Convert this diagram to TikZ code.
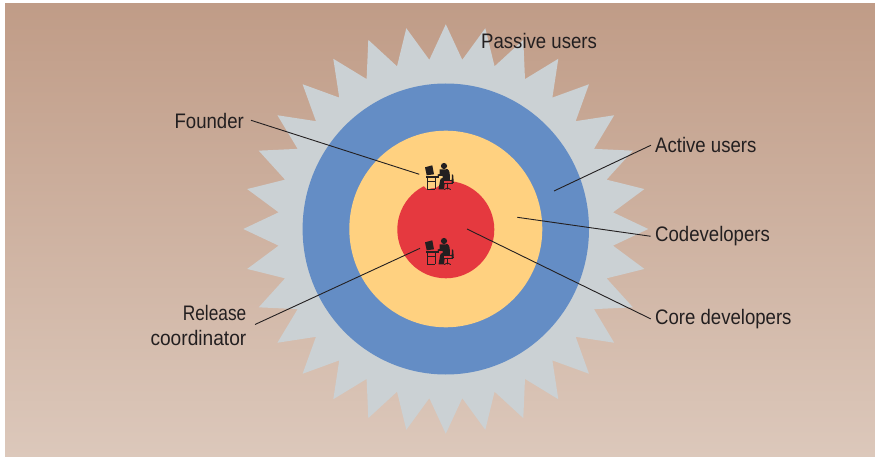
\documentclass[tikz,border=0pt]{standalone}
\usepackage{fontspec}
\setmainfont{Liberation Sans}[FakeStretch=0.885]
\definecolor{bgtop}{HTML}{C09C87}
\definecolor{bgbot}{HTML}{DCC8BB}
\definecolor{stargray}{HTML}{CBD1D4}
\definecolor{ringblue}{HTML}{648DC5}
\definecolor{ringyellow}{HTML}{FFD180}
\definecolor{ringred}{HTML}{E5393F}
\definecolor{ink}{HTML}{231F20}
\tikzset{
  lbl/.style={inner sep=0pt,text=ink,font=\fontsize{21}{25}\selectfont},
  leader/.style={draw=ink,line width=0.9pt},
  pics/worker/.style={code={
    % monitor
    \fill[ink] (0,2.3) -- (7.3,0.3) -- (9,9.3) -- (1.7,10.3) -- cycle;
    % desk
    \fill[ink] (0.7,11) rectangle (14,12.6);
    \draw[ink,line width=0.8pt] (2.3,12) -- (2.3,24.3) (10,12) -- (10,24.3) (2.3,24) -- (10,24) (2.3,16.7) -- (10,16.7);
    % person
    \fill[ink] (19,1) circle[radius=3.1];
    \fill[ink] (14.5,4.5) -- (22.5,4.2) .. controls (24.5,5) and (25,8) .. (25,15.5) -- (20,16) -- (19,24.3) -- (13.5,24.3) -- (15,16) .. controls (15,14) and (16,13) .. (17.5,13) -- (17.5,10.8) -- (13,11) -- (12.5,9.6) -- (14.5,9) -- cycle;
    % chair
    \fill[ringred,draw=ink,line width=0.5pt] (18.5,15.4) -- (27.5,15.4) -- (27.5,18) -- (18.5,18) -- cycle;
    \fill[ink] (27,9.3) -- (28.2,10) -- (28.8,18) -- (26.5,18) -- cycle;
    \draw[ink,line width=0.8pt] (22.5,17.8) -- (22.5,24.3) (19.3,24.6) -- (22.5,22.8) -- (25.7,24.6);
  }}
}
\begin{document}
\begin{tikzpicture}[x=1pt,y=-1pt]
\useasboundingbox (0,0) rectangle (875,457);
\fill[white] (0,0) rectangle (875,457);
\shade[top color=bgtop,bottom color=bgbot,shading angle=0] (5,4) rectangle (875,457);
\coordinate (c) at (445.8,229);
\fill[stargray] ([shift={(c)}]90:202.5 and 204.7) \foreach \k in {0,...,31} {
  -- ([shift={(c)}]{90+\k*11.25+5.625}:168 and 170)
  -- ([shift={(c)}]{90+\k*11.25+11.25}:202.5 and 204.7) } -- cycle;
\fill[ringblue] (c) ellipse[x radius=143.2,y radius=145.5];
\fill[ringyellow] (c) ellipse[x radius=96.5,y radius=98.3];
\fill[ringred] (445.8,229.6) ellipse[x radius=48.5,y radius=48.7];
\fill[ringyellow] (424,186) -- (427,189.2) -- (436,187.6) -- (440,185) -- (440,178) -- (424,178) -- cycle;
\pic at (425,165) {worker};
\pic at (425,240) {worker};
\node[lbl,anchor=base west] (passive) at (481,49) {Passive users};
\node[lbl,anchor=base west] (active) at (655,152.7) {Active users};
\node[lbl,anchor=base west] (codev) at (655,241.7) {Codevelopers};
\node[lbl,anchor=base west] (core) at (655,324.3) {Core developers};
\node[lbl,anchor=base east] (founder) at (244,128.3) {Founder};
\node[lbl,anchor=east,align=right] (release) at (246.5,325) {\scalebox{0.93}[1]{Release}\\\scalebox{1.03}[1]{coordinator}};
\coordinate (founderend) at (419.3,174.3);
\coordinate (releaseend) at (420,248.3);
\coordinate (activeend) at (554,191);
\coordinate (codevend) at (517.3,217.3);
\coordinate (coreend) at (467,229);
\path (founder.east) ++(7,-0.5) coordinate (founderstart);
\path (release.east) ++(8.5,-0.5) coordinate (releasestart);
\path (active.west) ++(-4,0) coordinate (activestart);
\path (codev.west) ++(-4.3,0) coordinate (codevstart);
\path (core.west) ++(-4.3,0) coordinate (corestart);
\draw[leader] (founderstart) -- (founderend);
\draw[leader] (releasestart) -- (releaseend);
\draw[leader] (activestart) -- (activeend);
\draw[leader] (codevstart) -- (codevend);
\draw[leader] (corestart) -- (coreend);
\end{tikzpicture}
\end{document}
